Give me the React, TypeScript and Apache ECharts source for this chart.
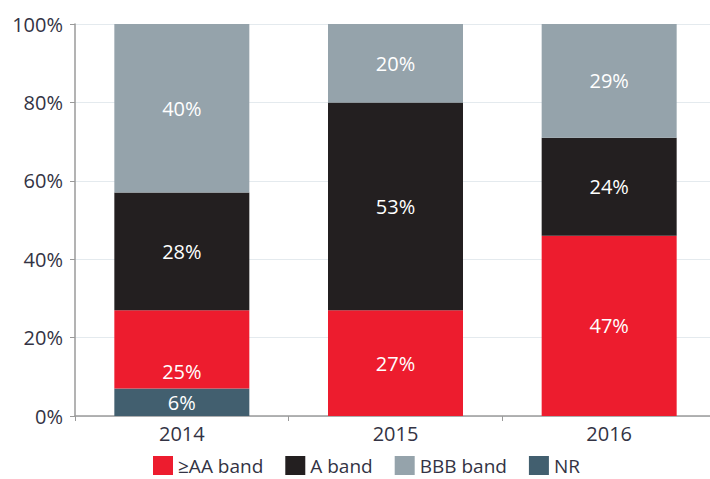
import React, { useEffect, useRef } from "react";
import * as echarts from "echarts";

const years = ["2014", "2015", "2016"];
const seriesNames = ["NR", "≥AA band", "A band", "BBB band"];
const legendOrder = ["≥AA band", "A band", "BBB band", "NR"];
const colors = ["#425F6F", "#ED1C2E", "#231F20", "#95A3AB"];
// segment heights (share of bar, %)
const nrShare = [7, 0, 0];
const aaShare = [20, 27, 46];
const aShare = [30, 53, 25];
const bbbShare = [43, 20, 29];
// printed labels
const nrLabel = ["6%", "", ""];
const aaLabel = ["25%", "27%", "47%"];
const aLabel = ["28%", "53%", "24%"];
const bbbLabel = ["40%", "20%", "29%"];
const yTicks = [0, 20, 40, 60, 80, 100];

const shares = [nrShare, aaShare, aShare, bbbShare];
const labels = [nrLabel, aaLabel, aLabel, bbbLabel];

export default function App() {
  const ref = useRef<HTMLDivElement>(null);
  useEffect(() => {
    const chart = echarts.init(ref.current!, null, { renderer: "svg" });
    const font = "'Open Sans', Lato, sans-serif";
    chart.setOption({
      animation: false,
      textStyle: { fontFamily: font },
      legend: {
        data: legendOrder,
        left: 148,
        top: 451,
        itemWidth: 20,
        itemHeight: 19,
        itemGap: 22,
        icon: "rect",
        textStyle: { fontSize: 19, lineHeight: 19, color: "#333344", fontFamily: font },
      },
      grid: { left: 75, top: 24, width: 641, height: 392, containLabel: false, outerBoundsMode: "none" },
      xAxis: {
        type: "category",
        data: years,
        axisLine: { lineStyle: { color: "#9a9a9a", width: 1.5 } },
        axisTick: { show: true, length: 5, lineStyle: { color: "#9a9a9a" } },
        axisLabel: { fontSize: 20, color: "#333344", margin: 7, fontFamily: font },
      },
      yAxis: {
        type: "value",
        min: 0,
        max: 100,
        interval: 20,
        axisLine: { show: true, lineStyle: { color: "#9a9a9a", width: 1.5 } },
        axisTick: { show: true, length: 5, lineStyle: { color: "#9a9a9a" } },
        splitLine: { lineStyle: { color: "#e4eaee" } },
        axisLabel: {
          fontSize: 20,
          color: "#333344",
          margin: 12,
          fontFamily: font,
          formatter: (v: number) => (yTicks.includes(v) ? v + "%" : ""),
        },
      },
      series: seriesNames.map((name, si) => ({
        name,
        type: "bar",
        stack: "total",
        barWidth: 135,
        itemStyle: { color: colors[si] },
        label: {
          show: true,
          position: "inside",
          color: "#ffffff",
          fontSize: 20,
          fontFamily: font,
          formatter: (p: any) => labels[si][p.dataIndex],
        },
        data: shares[si].map((v, i) =>
          si === 1 && i === 0 ? { value: v, label: { offset: [0, 22] } } : v
        ),
      })),
    });
    return () => chart.dispose();
  }, []);
  return <div ref={ref} style={{ width: 710, height: 479, position: "absolute", left: 0, top: 0 }} />;
}
